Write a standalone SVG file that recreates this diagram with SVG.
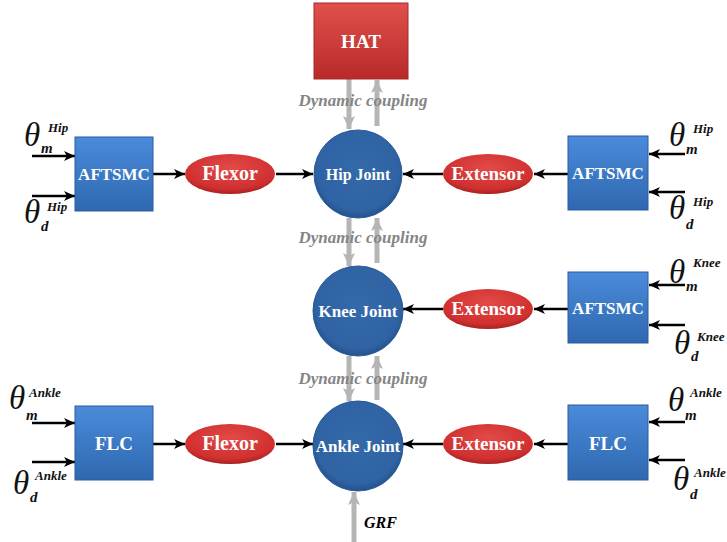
<svg xmlns="http://www.w3.org/2000/svg" width="727" height="542" viewBox="0 0 727 542">
<defs>
<linearGradient id="gBlue" x1="0" y1="0" x2="0" y2="1"><stop offset="0" stop-color="#4A8BDA"/><stop offset="1" stop-color="#2F68B0"/></linearGradient>
<radialGradient id="gCirc" cx="0.5" cy="0.45" r="0.55"><stop offset="0" stop-color="#3469AA"/><stop offset="0.85" stop-color="#2F63A3"/><stop offset="1" stop-color="#24528C"/></radialGradient>
<linearGradient id="gRed" x1="0" y1="0" x2="0" y2="1"><stop offset="0" stop-color="#E0504C"/><stop offset="1" stop-color="#B82A2A"/></linearGradient>
<radialGradient id="gEll" cx="0.5" cy="0.35" r="0.65"><stop offset="0" stop-color="#E24A48"/><stop offset="0.8" stop-color="#D0302F"/><stop offset="1" stop-color="#A82222"/></radialGradient>
<marker id="ah" markerWidth="12" markerHeight="10" refX="11" refY="5" orient="auto" markerUnits="userSpaceOnUse"><path d="M0,0 L11,5 L0,10 L3,5 Z" fill="#000"/></marker>
<marker id="gh" markerWidth="14" markerHeight="12" refX="13" refY="6" orient="auto" markerUnits="userSpaceOnUse"><path d="M0,0 L13,6 L0,12 L3,6 Z" fill="#B5B5B5"/></marker>
</defs>
<style>
.box{fill:url(#gBlue);stroke:#2A5C9C;stroke-width:1}
.circ{fill:url(#gCirc);stroke:#2A5A95;stroke-width:1}
.ell{fill:url(#gEll)}
.lbl{font-family:"Liberation Serif",serif;font-weight:bold;fill:#fff;text-anchor:middle}
.ln{stroke:#000;stroke-width:2.5;fill:none;marker-end:url(#ah)}
.gl{stroke:#B5B5B5;stroke-width:5;fill:none;marker-end:url(#gh)}
.dc{font-family:"Liberation Serif",serif;font-weight:bold;font-style:italic;font-size:17px;fill:#858585;text-anchor:middle}
.th{font-family:"Liberation Serif",serif;font-style:italic;fill:#111}
.big{font-size:33px}
.sup{font-size:13px;font-weight:bold}
.sub{font-size:15px;font-weight:bold}
</style>
<g id="connectors">
<line class="ln" x1="32" y1="156" x2="75" y2="156"/>
<line class="ln" x1="32" y1="196" x2="75" y2="196"/>
<line class="ln" x1="153" y1="174" x2="185" y2="174"/>
<line class="ln" x1="276" y1="174" x2="313" y2="174"/>
<line class="ln" x1="443" y1="174" x2="403" y2="174"/>
<line class="ln" x1="568" y1="174" x2="534" y2="174"/>
<line class="ln" x1="685" y1="154" x2="649" y2="154"/>
<line class="ln" x1="685" y1="192" x2="649" y2="192"/>
<line class="ln" x1="443" y1="309" x2="403" y2="309"/>
<line class="ln" x1="568" y1="309" x2="534" y2="309"/>
<line class="ln" x1="685" y1="285" x2="649" y2="285"/>
<line class="ln" x1="685" y1="325" x2="649" y2="325"/>
<line class="ln" x1="32" y1="423" x2="75" y2="423"/>
<line class="ln" x1="32" y1="462" x2="75" y2="462"/>
<line class="ln" x1="153" y1="444" x2="185" y2="444"/>
<line class="ln" x1="276" y1="444" x2="313" y2="444"/>
<line class="ln" x1="443" y1="444" x2="403" y2="444"/>
<line class="ln" x1="568" y1="444" x2="534" y2="444"/>
<line class="ln" x1="685" y1="422" x2="649" y2="422"/>
<line class="ln" x1="685" y1="460" x2="649" y2="460"/>
<line class="gl" x1="349" y1="79" x2="349" y2="129"/>
<line class="gl" x1="377" y1="126" x2="377" y2="80"/>
<line class="gl" x1="349" y1="218" x2="349" y2="266"/>
<line class="gl" x1="377" y1="263" x2="377" y2="218"/>
<line class="gl" x1="349" y1="356" x2="349" y2="401"/>
<line class="gl" x1="377" y1="400" x2="377" y2="356"/>
<line class="gl" x1="354" y1="542" x2="354" y2="492"/>
<text class="dc" x="363" y="106">Dynamic coupling</text>
<text class="dc" x="363" y="243">Dynamic coupling</text>
<text class="dc" x="363" y="384">Dynamic coupling</text>
<text x="364" y="528" style="font-family:'Liberation Serif',serif;font-weight:bold;font-style:italic;font-size:16px;fill:#000">GRF</text>
</g>
<g id="hat"><rect x="314" y="3" width="94" height="76" fill="url(#gRed)" stroke="#A82828"/><text class="lbl" x="361" y="48" font-size="19">HAT</text></g>
<g id="hip-joint"><circle class="circ" cx="358" cy="174" r="44"/><text class="lbl" x="358" y="180" font-size="16">Hip Joint</text></g>
<g id="knee-joint"><circle class="circ" cx="358" cy="311" r="45"/><text class="lbl" x="358" y="317" font-size="17">Knee Joint</text></g>
<g id="ankle-joint"><circle class="circ" cx="358" cy="446" r="45"/><text class="lbl" x="358" y="452" font-size="17">Ankle Joint</text></g>
<g id="aftsmc-hip-left"><rect class="box" x="75" y="137" width="78" height="74"/><text class="lbl" x="114" y="180" font-size="17">AFTSMC</text></g>
<g id="aftsmc-hip-right"><rect class="box" x="568" y="136" width="80" height="74"/><text class="lbl" x="608" y="179" font-size="17">AFTSMC</text></g>
<g id="aftsmc-knee-right"><rect class="box" x="568" y="272" width="80" height="71"/><text class="lbl" x="608" y="314" font-size="17">AFTSMC</text></g>
<g id="flc-left"><rect class="box" x="75" y="406" width="78" height="74"/><text class="lbl" x="114" y="450" font-size="19">FLC</text></g>
<g id="flc-right"><rect class="box" x="568" y="405" width="80" height="75"/><text class="lbl" x="608" y="450" font-size="19">FLC</text></g>
<g id="flexor-hip"><ellipse class="ell" cx="230" cy="174" rx="45" ry="20"/><text class="lbl" x="230" y="180" font-size="20">Flexor</text></g>
<g id="extensor-hip"><ellipse class="ell" cx="488" cy="174" rx="45" ry="20"/><text class="lbl" x="488" y="180" font-size="19">Extensor</text></g>
<g id="extensor-knee"><ellipse class="ell" cx="488" cy="309" rx="45" ry="20"/><text class="lbl" x="488" y="315" font-size="19">Extensor</text></g>
<g id="flexor-ankle"><ellipse class="ell" cx="230" cy="444" rx="45" ry="20"/><text class="lbl" x="230" y="450" font-size="20">Flexor</text></g>
<g id="extensor-ankle"><ellipse class="ell" cx="488" cy="444" rx="45" ry="20"/><text class="lbl" x="488" y="450" font-size="19">Extensor</text></g>
<g id="labels">
<text class="th"><tspan class="big" x="24" y="146">θ</tspan><tspan class="sup" x="48" y="132">Hip</tspan><tspan class="sub" x="41" y="153">m</tspan></text>
<text class="th"><tspan class="big" x="24" y="223">θ</tspan><tspan class="sup" x="47" y="211">Hip</tspan><tspan class="sub" x="41" y="231">d</tspan></text>
<text class="th"><tspan class="big" x="669" y="146">θ</tspan><tspan class="sup" x="693" y="133">Hip</tspan><tspan class="sub" x="686" y="154">m</tspan></text>
<text class="th"><tspan class="big" x="669" y="219">θ</tspan><tspan class="sup" x="693" y="206">Hip</tspan><tspan class="sub" x="686" y="229">d</tspan></text>
<text class="th"><tspan class="big" x="669" y="283">θ</tspan><tspan class="sup" x="693" y="267">Knee</tspan><tspan class="sub" x="686" y="291">m</tspan></text>
<text class="th"><tspan class="big" x="674" y="354">θ</tspan><tspan class="sup" x="697" y="341">Knee</tspan><tspan class="sub" x="691" y="361">d</tspan></text>
<text class="th"><tspan class="big" x="9" y="409">θ</tspan><tspan class="sup" x="29" y="397">Ankle</tspan><tspan class="sub" x="26" y="420">m</tspan></text>
<text class="th"><tspan class="big" x="13" y="494">θ</tspan><tspan class="sup" x="35" y="480">Ankle</tspan><tspan class="sub" x="30" y="502">d</tspan></text>
<text class="th"><tspan class="big" x="668" y="411">θ</tspan><tspan class="sup" x="690" y="397">Ankle</tspan><tspan class="sub" x="685" y="420">m</tspan></text>
<text class="th"><tspan class="big" x="673" y="490">θ</tspan><tspan class="sup" x="694" y="477">Ankle</tspan><tspan class="sub" x="690" y="499">d</tspan></text>
</g>
</svg>
